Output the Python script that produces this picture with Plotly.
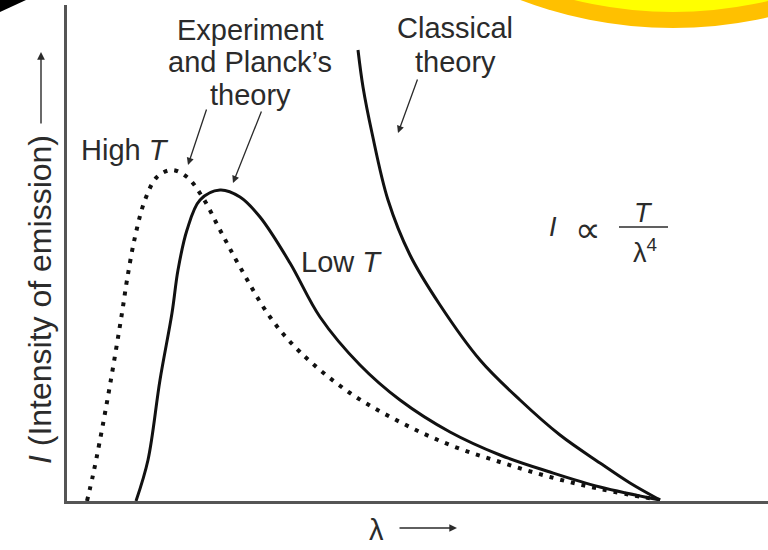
import plotly.graph_objects as go

# Spectral curves, wavelength vs. emitted intensity (arbitrary units)
planck_lam = [0.69, 0.81, 0.93, 1.05, 1.11, 1.20, 1.33, 1.53, 1.73, 1.93, 2.23,
              2.53, 2.93, 3.33, 3.83, 4.33, 4.83, 5.33, 5.93]
planck_I = [0.00, 0.41, 1.21, 1.88, 2.31, 2.71, 3.01, 3.11, 3.04, 2.84, 2.38,
            1.84, 1.36, 1.01, 0.69, 0.46, 0.29, 0.14, 0.01]

hot_lam = [0.20, 0.26, 0.33, 0.43, 0.55, 0.60, 0.68, 0.78, 0.90, 1.05, 1.20,
           1.36, 1.53, 1.73, 2.03, 2.33, 2.83, 3.33, 3.83, 4.33, 4.83, 5.33, 5.93]
hot_I = [0.00, 0.26, 0.61, 1.16, 1.88, 2.21, 2.64, 3.01, 3.24, 3.31, 3.24,
         3.03, 2.71, 2.34, 1.84, 1.49, 1.08, 0.79, 0.56, 0.39, 0.24, 0.12, 0.01]

classical_lam = [2.91, 2.96, 3.05, 3.21, 3.43, 3.73, 4.13, 4.53, 4.93, 5.33, 5.63, 5.93]
classical_I = [4.51, 4.14, 3.68, 3.01, 2.46, 1.96, 1.41, 1.01, 0.66, 0.38, 0.18, 0.01]

W, H = 768, 550
ML, MR, MT, MB = 67, 0, 5, 49
PW, PH = W - ML - MR, H - MT - MB
X_RANGE = [0, PW / 100]
Y_RANGE = [0, PH / 100]


def paper(px, py):
    """Pixel position on the page -> paper coordinates."""
    return (px - ML) / PW, (H - MB - py) / PH


FONT = "Liberation Sans, Arial, Helvetica, sans-serif"
TXT = "#2b2b2b"

fig = go.Figure()
fig.add_trace(go.Scatter(x=hot_lam, y=hot_I, mode="lines", line_shape="spline",
                         line=dict(color="#111", width=4, dash="4px,7px"),
                         hoverinfo="skip", showlegend=False))
fig.add_trace(go.Scatter(x=planck_lam, y=planck_I, mode="lines", line_shape="spline",
                         line=dict(color="#111", width=3),
                         hoverinfo="skip", showlegend=False))
fig.add_trace(go.Scatter(x=classical_lam, y=classical_I, mode="lines", line_shape="spline",
                         line=dict(color="#111", width=3),
                         hoverinfo="skip", showlegend=False))

ann = []


def text(x, y, s, size=29, ref="data", **kw):
    ann.append(dict(x=x, y=y, xref="x" if ref == "data" else "paper",
                    yref="y" if ref == "data" else "paper", text=s, showarrow=False,
                    xanchor="center", yanchor="middle",
                    font=dict(family=FONT, size=size, color=TXT), **kw))


def arrow(x, y, ax, ay, ref="data", width=1.3):
    ann.append(dict(x=x, y=y, xref="x" if ref == "data" else "paper",
                    yref="y" if ref == "data" else "paper", ax=ax, ay=ay, text="",
                    showarrow=True, arrowhead=2, arrowsize=1.1, arrowwidth=width,
                    arrowcolor=TXT))


# label blocks, one line at a time for tight line spacing
text(1.83, 4.71, "Experiment")
text(1.83, 4.39, "and Planck’s")
text(1.83, 4.06, "theory")
text(3.88, 4.73, "Classical")
text(3.88, 4.39, "theory")
text(0.58, 3.51, "High <i>T</i>")
text(2.74, 2.39, "Low <i>T</i>")

# pointers from the labels to the curves
arrow(1.21, 3.36, 19, -57)
arrow(1.66, 3.18, 29, -73)
arrow(3.31, 3.68, 20, -55)

# I ∝ T / λ^4
text(4.86, 2.74, "<i>I</i>", size=27)
text(5.21, 2.72, "∝", size=36)
text(5.76, 2.88, "<i>T</i>", size=27)
text(5.78, 2.50, "λ<sup>4</sup>", size=27)

# axis titles with arrows
px, py = paper(40, 300)
text(px, py, "<i>I</i> (Intensity of emission)", size=32, ref="paper", textangle=-90)
px, py = paper(41, 52)
arrow(px, py, 0, 73, ref="paper", width=1.4)
px, py = paper(376, 530)
text(px, py, "λ", ref="paper")
px, py = paper(457, 528)
arrow(px, py, -59, 0, ref="paper", width=1.4)

shapes = [
    dict(type="line", xref="x", yref="y", x0=5.52, x1=6.01, y0=2.74, y1=2.74,
         line=dict(color=TXT, width=1.5)),
]

# decorative disc in the top-right corner and dark corner at top-left
x0, y1 = paper(673 - 430, 28)
x1, y0 = paper(673 + 430, 28 - 860)
shapes.append(dict(type="circle", xref="paper", yref="paper", x0=x0, x1=x1, y0=y0, y1=y1,
                   fillcolor="#FFC000", line=dict(width=0), layer="above"))
x0, y1 = paper(673 - 414, 12)
x1, y0 = paper(673 + 414, 12 - 828)
shapes.append(dict(type="circle", xref="paper", yref="paper", x0=x0, x1=x1, y0=y0, y1=y1,
                   fillcolor="#FFFF00", line=dict(width=0), layer="above"))
a = paper(0, 0)
b = paper(26, 0)
c = paper(0, 12)
shapes.append(dict(type="path", xref="paper", yref="paper",
                   path=f"M {a[0]} {a[1]} L {b[0]} {b[1]} L {c[0]} {c[1]} Z",
                   fillcolor="#000", line=dict(width=0), layer="above"))

axis_common = dict(showgrid=False, zeroline=False, showticklabels=False, ticks="",
                   showline=True, linecolor="#555", fixedrange=True)
fig.update_layout(
    width=W, height=H, autosize=False,
    margin=dict(l=ML, r=MR, t=MT, b=MB),
    paper_bgcolor="white", plot_bgcolor="white",
    xaxis=dict(range=X_RANGE, linewidth=3, **axis_common),
    yaxis=dict(range=Y_RANGE, linewidth=2.5, **axis_common),
    annotations=ann, shapes=shapes,
)
fig.write_html("out.html", config={"displayModeBar": False})
